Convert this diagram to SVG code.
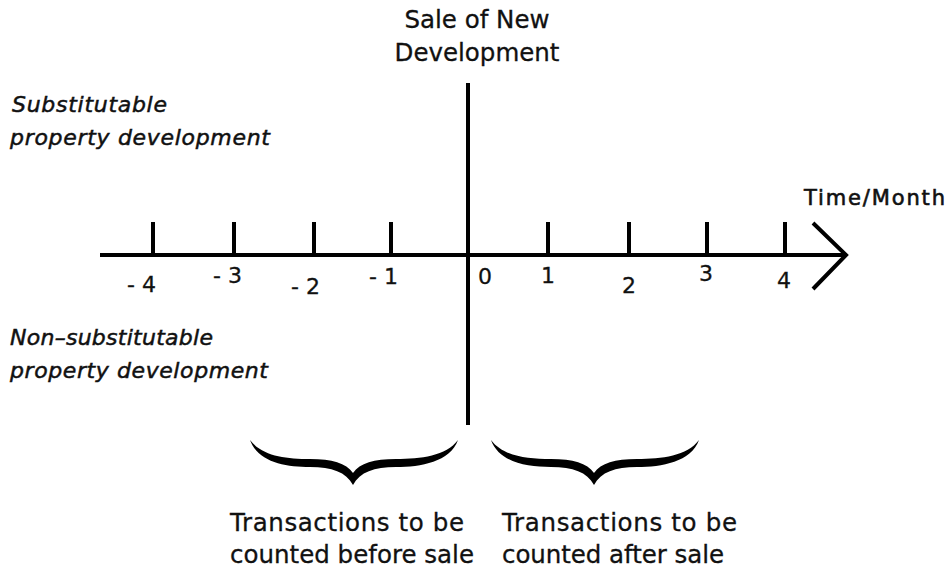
<svg xmlns="http://www.w3.org/2000/svg" width="949" height="572" viewBox="0 0 949 572">
<style>
.t{font-family:"DejaVu Sans","Verdana",sans-serif;fill:#111;stroke:#111;stroke-width:0.3;}
.i{font-family:"DejaVu Sans",sans-serif;font-style:italic;fill:#111;font-size:22px;stroke:#111;stroke-width:0.5;}
.n{font-family:"DejaVu Sans",sans-serif;fill:#111;font-size:22px;stroke:#111;stroke-width:0.3;}
.ln{stroke:#000;stroke-width:4;fill:none;}
.br{fill:#000;}
</style>
<defs>
<path id="brace" d="M250,440 C258,462 285,467 310,467 C332,467 346,472 353,485 C360,472 374,467 396,467 C421,467 450,462 458,440 C446,456 421,459 396,459 C374,459 360,463 353,473 C346,463 332,459 310,459 C285,459 262,456 250,440 Z"/>
</defs>
<rect width="949" height="572" fill="#fff"/>
<g id="axes">
<path class="ln" d="M100,255 H845"/>
<path class="ln" d="M813,223 L846,255 L813,289"/>
<path class="ln" d="M468,83 V425"/>
</g>
<g id="ticks">
<path class="ln" d="M153,222V255M234,222V255M314,222V255M391,222V255M548,222V255M629,222V255M707,222V255M785,222V255"/>
</g>
<g id="tick-labels">
<text class="n" x="127" y="292">- 4</text>
<text class="n" x="213" y="283">- 3</text>
<text class="n" x="291" y="294">- 2</text>
<text class="n" x="369" y="284">- 1</text>
<text class="n" x="478" y="284">0</text>
<text class="n" x="541" y="283">1</text>
<text class="n" x="622" y="293">2</text>
<text class="n" x="699" y="281">3</text>
<text class="n" x="777" y="288">4</text>
</g>
<g id="sale-label">
<text class="t" font-size="24.5" x="477" y="28" text-anchor="middle">Sale of New</text>
<text class="t" font-size="24.5" x="477" y="61" text-anchor="middle">Development</text>
</g>
<g id="time-label">
<text class="t" font-size="21" x="804" y="205" textLength="141" style="stroke-width:0.6">Time/Month</text>
</g>
<g id="substitutable">
<text class="i" x="12" y="112" textLength="155">Substitutable</text>
<text class="i" x="10" y="145" textLength="260">property development</text>
</g>
<g id="non-substitutable">
<text class="i" x="10" y="345" textLength="203">Non–substitutable</text>
<text class="i" x="10" y="378" textLength="258">property development</text>
</g>
<g id="brace-before">
<use href="#brace" class="br"/>
<text class="t" font-size="24.5" x="230" y="531" textLength="234">Transactions to be</text>
<text class="t" font-size="24.5" x="230" y="563" textLength="244">counted before sale</text>
</g>
<g id="brace-after">
<use href="#brace" class="br" transform="translate(241,0)"/>
<text class="t" font-size="24.5" x="502" y="531" textLength="235">Transactions to be</text>
<text class="t" font-size="24.5" x="502" y="563" textLength="222">counted after sale</text>
</g>
</svg>
